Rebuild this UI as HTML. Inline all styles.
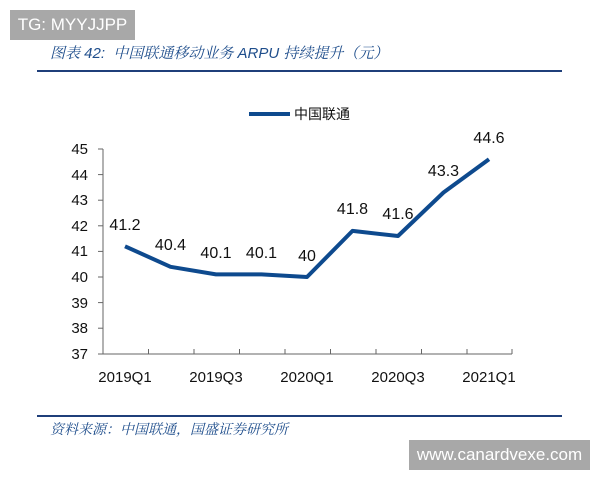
<!DOCTYPE html>
<html><head><meta charset="utf-8"><style>
html,body{margin:0;padding:0;background:#fff;}
body{width:600px;height:480px;position:relative;overflow:hidden;font-family:"Liberation Sans","Noto Sans CJK SC",sans-serif;}
.box{position:absolute;background:#a8a8a8;color:#fff;font-size:17px;display:flex;align-items:center;justify-content:center;}
</style></head><body>
<div class="box" style="left:10px;top:10px;width:125px;height:30px;">TG: MYYJJPP</div>
<div style="position:absolute;left:50px;top:42px;font-size:15px;font-style:italic;color:#1f4e8c;font-family:'Liberation Sans','Noto Serif CJK SC',serif;">图表 42:&nbsp; 中国联通移动业务 ARPU 持续提升（元）</div>
<div style="position:absolute;left:37px;top:70px;width:525px;height:2px;background:#1f3f7a;"></div>
<svg style="position:absolute;left:0;top:0" width="600" height="480">
<g font-family="Liberation Sans, sans-serif" font-size="15" fill="#111">
<line x1="103" y1="149" x2="103" y2="354" stroke="#666"/>
<line x1="103" y1="354" x2="512" y2="354" stroke="#666"/>
<g stroke="#666">
<line x1="148.5" y1="349" x2="148.5" y2="354"/><line x1="194" y1="349" x2="194" y2="354"/><line x1="239.5" y1="349" x2="239.5" y2="354"/><line x1="285" y1="349" x2="285" y2="354"/><line x1="330.5" y1="349" x2="330.5" y2="354"/><line x1="376" y1="349" x2="376" y2="354"/><line x1="421.5" y1="349" x2="421.5" y2="354"/><line x1="467" y1="349" x2="467" y2="354"/><line x1="512" y1="349" x2="512" y2="354"/>
<line x1="98" y1="149" x2="103" y2="149"/><line x1="98" y1="174.6" x2="103" y2="174.6"/><line x1="98" y1="200.2" x2="103" y2="200.2"/><line x1="98" y1="225.8" x2="103" y2="225.8"/><line x1="98" y1="251.4" x2="103" y2="251.4"/><line x1="98" y1="277" x2="103" y2="277"/><line x1="98" y1="302.6" x2="103" y2="302.6"/><line x1="98" y1="328.2" x2="103" y2="328.2"/><line x1="98" y1="354" x2="103" y2="354"/>
</g>
<g text-anchor="end">
<text x="88" y="154">45</text><text x="88" y="180">44</text><text x="88" y="205">43</text><text x="88" y="231">42</text><text x="88" y="256">41</text><text x="88" y="282">40</text><text x="88" y="308">39</text><text x="88" y="333">38</text><text x="88" y="359">37</text>
</g>
<g text-anchor="middle">
<text x="125" y="382">2019Q1</text><text x="216" y="382">2019Q3</text><text x="307" y="382">2020Q1</text><text x="398" y="382">2020Q3</text><text x="489" y="382">2021Q1</text>
</g>
<polyline fill="none" stroke="#0e4a8e" stroke-width="4" stroke-linejoin="round" points="125,246.3 170.5,266.8 216,274.4 261.5,274.4 307,277 352.5,230.9 398,236 443.5,192.5 489,159.2"/>
<g text-anchor="middle" font-size="16">
<text x="125" y="230">41.2</text><text x="170.5" y="250">40.4</text><text x="216" y="258">40.1</text><text x="261.5" y="258">40.1</text><text x="307" y="261">40</text><text x="352.5" y="214">41.8</text><text x="398" y="219">41.6</text><text x="443.5" y="176">43.3</text><text x="489" y="143">44.6</text>
</g>
<line x1="249" y1="114" x2="290" y2="114" stroke="#0e4a8e" stroke-width="4"/>
<text x="294" y="119" font-family="Liberation Sans, Noto Sans CJK SC, sans-serif" font-size="14">中国联通</text>
</g>
</svg>
<div style="position:absolute;left:37px;top:415px;width:525px;height:2px;background:#1f3f7a;"></div>
<div style="position:absolute;left:50px;top:419px;font-size:14px;font-style:italic;color:#1f4e8c;font-family:'Liberation Sans','Noto Serif CJK SC',serif;">资料来源：中国联通，国盛证券研究所</div>
<div class="box" style="left:409px;top:440px;width:181px;height:30px;">www.canardvexe.com</div>
</body></html>
